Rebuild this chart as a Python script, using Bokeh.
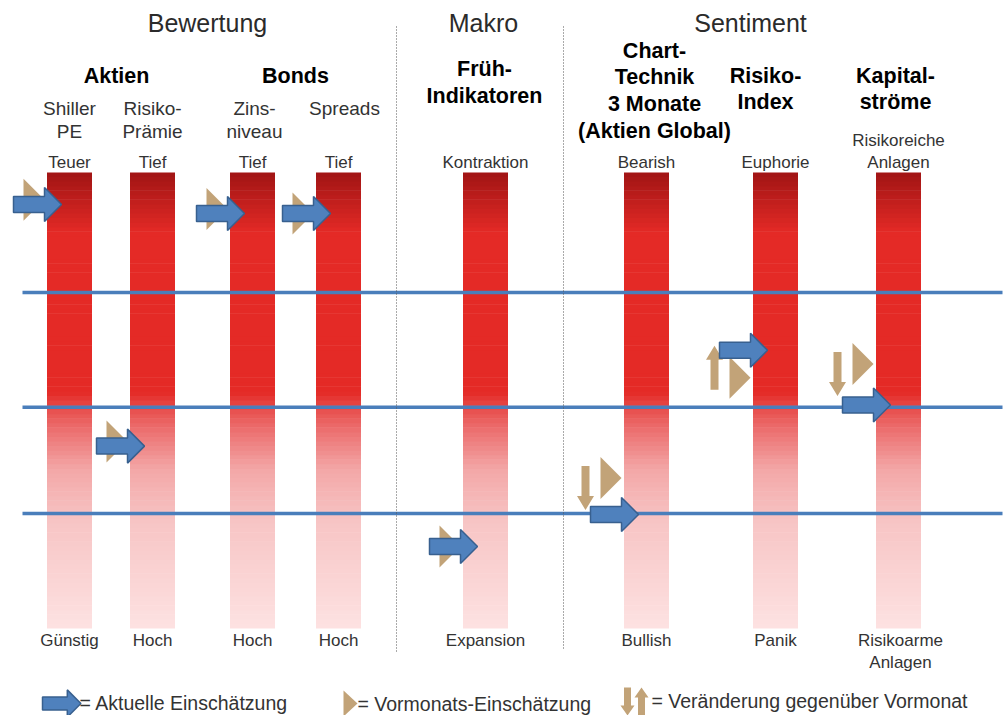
import numpy as np
from bokeh.plotting import figure
from bokeh.models import Range1d, ColumnDataSource
from bokeh.core.properties import value
from bokeh.embed import file_html
from bokeh.resources import INLINE

# ---------------- data ----------------
indicators = ["Shiller PE", "Risiko-Prämie", "Zinsniveau", "Spreads",
              "Früh-Indikatoren", "Chart-Technik", "Risiko-Index", "Kapitalströme"]
# score: 0 = bottom of the bar, 10 = top of the bar
current = [9.3, 4.0, 9.1, 9.1, 1.8, 2.5, 6.1, 4.9]     # Aktuelle Einschätzung
previous = [9.4, 4.1, 9.2, 9.1, 1.8, 3.3, 5.5, 5.8]    # Vormonats-Einschätzung
change = [0, 0, 0, 0, 0, -1, 1, -1]                    # Veränderung gegenüber Vormonat
top_labels = ["Teuer", "Tief", "Tief", "Tief", "Kontraktion", "Bearish", "Euphorie", "Risikoreiche\nAnlagen"]
bottom_labels = ["Günstig", "Hoch", "Hoch", "Hoch", "Expansion", "Bullish", "Panik", "Risikoarme\nAnlagen"]
thresholds = [7.37, 4.85, 2.52]
scale_min, scale_max = 0, 10

groups = ["Bewertung", "Makro", "Sentiment"]
sub_groups = ["Aktien", "Bonds", "Früh-\nIndikatoren", "Chart-\nTechnik\n3 Monate\n(Aktien Global)",
              "Risiko-\nIndex", "Kapital-\nströme"]
sub_labels = ["Shiller\nPE", "Risiko-\nPrämie", "Zins-\nniveau", "Spreads"]

# ---------------- layout ----------------
FONT = "Liberation Sans"
W, Hh = 1005, 715
PX = 45.6          # pixels per score unit
BASE = 628         # pixel row of score 0
bar_x = [69, 152, 252, 338, 485, 646, 775, 898]
BAR_W = 45


def Y(pix):
    return (BASE - pix) / PX


def H(pix):
    return pix / PX


p = figure(width=W, height=Hh, x_range=Range1d(0, W), y_range=Range1d(Y(Hh), Y(0)),
           output_backend="svg", toolbar_location=None,
           x_axis_location=None, y_axis_location=None, min_border=0,
           outline_line_color=None, background_fill_color="white")
p.grid.visible = False

# ---- gradient bars ----
stops = [(172, (160, 20, 20)), (232, (228, 42, 38)), (392, (228, 42, 38)),
         (405, (231, 72, 70)), (430, (236, 112, 112)), (470, (243, 168, 168)),
         (520, (247, 196, 196)), (628, (253, 226, 226))]
sp = np.array([s[0] for s in stops], dtype=float)
sc = np.array([s[1] for s in stops], dtype=float)

n = 100
edges = np.linspace(scale_min, scale_max, n + 1)
L, R, T, B, C = [], [], [], [], []
for cx in bar_x:
    for i in range(n):
        b, t = edges[i], edges[i + 1]
        mid_pix = BASE - (b + t) / 2 * PX
        rgb = [int(round(np.interp(mid_pix, sp, sc[:, k]))) for k in range(3)]
        L.append(cx - BAR_W / 2); R.append(cx + BAR_W / 2)
        B.append(b); T.append(min(t + 0.012, scale_max))
        C.append("#%02x%02x%02x" % tuple(rgb))
p.quad(left=L, right=R, top=T, bottom=B, fill_color=C, line_color=None)

# ---- horizontal threshold lines ----
for th in thresholds:
    p.line([22, 1002], [th, th], line_color="#4a7ebb", line_width=3.5)

# ---- vertical dotted separators ----
p.line([396, 396], [Y(26), Y(652)], line_color="#555555", line_width=1, line_dash="1 2")
p.line([563, 563], [Y(26), Y(648)], line_color="#555555", line_width=1, line_dash="1 2")

TAN = "#c2a378"
BLUE = "#4f81bd"
BLUE_LINE = "#38608f"


def blue_arrow(left, yc, s=1.0):
    sl, tl, sh, hh = 31 * s, 48 * s, 8 * s, 17 * s
    xs = [left, left + sl, left + sl, left + tl, left + sl, left + sl, left]
    ys = [yc + H(sh), yc + H(sh), yc + H(hh), yc, yc - H(hh), yc - H(sh), yc - H(sh)]
    return xs, ys


def triangle(left, yc, w=21, hh=21):
    return [left, left + w, left], [yc + H(hh), yc, yc - H(hh)]


def vert_arrow(xc, yc, d, length=44, head=14, sw=4, hw=8.5):
    tip = yc + d * H(length / 2)
    base = yc - d * H(length / 2)
    neck = tip - d * H(head)
    xs = [xc - sw, xc - sw, xc - hw, xc, xc + hw, xc + sw, xc + sw]
    ys = [base, neck, neck, tip, neck, neck, base]
    return xs, ys


# previous-month triangles
tx, ty = [], []
for cx, v in zip(bar_x, previous):
    a, b = triangle(cx - 46, v)
    tx.append(a); ty.append(b)
p.patches(tx, ty, fill_color=TAN, line_color=None)

# change arrows
cxs, cys = [], []
for cx, v, d in zip(bar_x, previous, change):
    if d != 0:
        a, b = vert_arrow(cx - 61, v + 0.22 * d, d)
        cxs.append(a); cys.append(b)
p.patches(cxs, cys, fill_color=TAN, line_color=None)

# current arrows
ax, ay = [], []
for cx, v in zip(bar_x, current):
    a, b = blue_arrow(cx - 56, v)
    ax.append(a); ay.append(b)
p.patches(ax, ay, fill_color=BLUE, line_color=BLUE_LINE, line_width=1.5)


# ---- texts ----
def add_text(texts, xs, ys_pix, size, bold=False, color="#333333", align="center"):
    src = ColumnDataSource(dict(x=xs, y=[Y(v) for v in ys_pix], t=texts))
    p.text(x="x", y="y", text="t", source=src, text_font=value(FONT),
           text_font_size=f"{size}px", text_font_style="bold" if bold else "normal",
           text_color=color, text_align=align, text_baseline="middle")


add_text(groups, [207, 483, 750], [22, 22, 22], 25, color="#2b2b2b")

# bold sub-group headers (split in lines)
hdr_x = [116, 295, 484, 654, 765, 895]
hdr_y0 = [75, 75, 68, 50, 75, 75]
hdr_step = [0, 0, 27, 26.7, 26, 26]
hx, hy, ht = [], [], []
for lab, x, y0, st in zip(sub_groups, hdr_x, hdr_y0, hdr_step):
    for k, line in enumerate(lab.split("\n")):
        hx.append(x); hy.append(y0 + k * st); ht.append(line)
add_text(ht, hx, hy, 21.5, bold=True, color="#000000")

# sub labels
slx = [69, 152, 254, 344]
sx, sy, st_ = [], [], []
for lab, x in zip(sub_labels, slx):
    for k, line in enumerate(lab.split("\n")):
        sx.append(x); sy.append(108 + k * 23); st_.append(line)
add_text(st_, sx, sy, 19)

# top / bottom end-labels
tx_, ty_, tt_ = [], [], []
for lab, x in zip(top_labels, bar_x):
    lines = lab.split("\n")
    for k, line in enumerate(lines):
        tx_.append(x); ty_.append(162 - (len(lines) - 1 - k) * 22); tt_.append(line)
add_text(tt_, tx_, ty_, 17)

bx_, by_, bt_ = [], [], []
for lab, x in zip(bottom_labels, bar_x):
    for k, line in enumerate(lab.split("\n")):
        bx_.append(x + (2 if "\n" in lab else 0)); by_.append(640 + k * 22); bt_.append(line)
add_text(bt_, bx_, by_, 17)

# ---- legend ----
lx, ly = blue_arrow(42, Y(703), s=0.8)
p.patch(lx, ly, fill_color=BLUE, line_color=BLUE_LINE, line_width=1.5)
lt = triangle(343, Y(703), w=14, hh=13)
p.patch(lt[0], lt[1], fill_color=TAN, line_color=None)
d1 = vert_arrow(627, Y(701), -1, length=28, head=10, sw=3.5, hw=7)
d2 = vert_arrow(641, Y(701), 1, length=28, head=10, sw=3.5, hw=7)
p.patches([d1[0], d2[0]], [d1[1], d2[1]], fill_color=TAN, line_color=None)
add_text(["= Aktuelle Einschätzung", "= Vormonats-Einschätzung", "= Veränderung gegenüber Vormonat"],
         [79, 357, 651], [702, 703, 700], 19.5, align="left")

open("out.html", "w").write(file_html(p, INLINE))
